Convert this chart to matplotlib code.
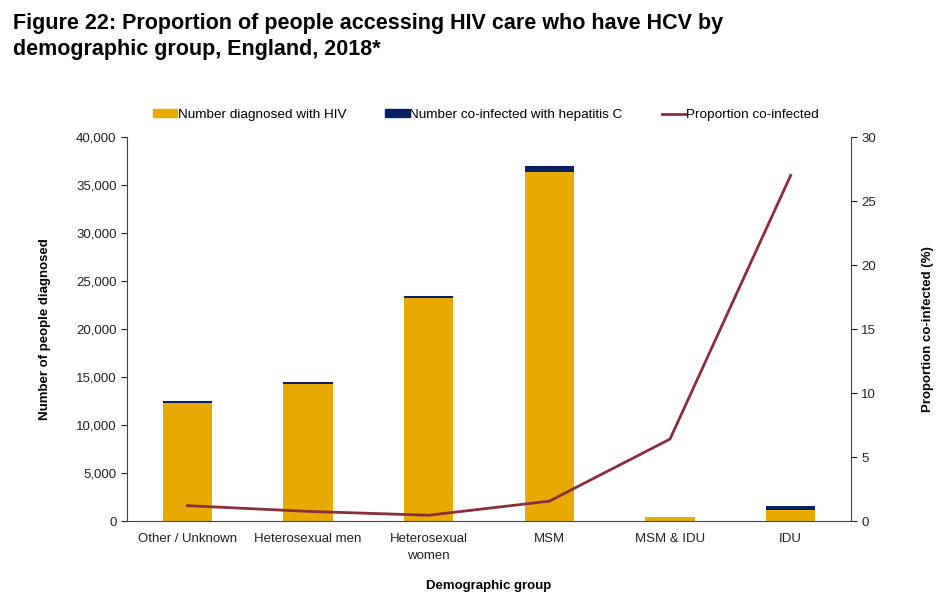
import numpy as np
import matplotlib.pyplot as plt
from matplotlib.patches import Patch
from matplotlib.lines import Line2D

plt.rcParams['font.family'] = ['Liberation Sans', 'DejaVu Sans']

groups = ['Other / Unknown', 'Heterosexual men', 'Heterosexual\nwomen', 'MSM', 'MSM & IDU', 'IDU']
hiv_only = [12300, 14300, 23250, 36400, 370, 1150]
hcv_coinfected = [220, 170, 170, 570, 70, 420]
prop_coinfected = [1.2, 0.75, 0.45, 1.55, 6.4, 27.0]

yellow = '#E8AA00'
navy = '#0A215F'
maroon = '#8C2D3C'

fig = plt.figure(figsize=(9.51, 6.08), dpi=100)
ax = fig.add_axes([127 / 951, 1 - 521 / 608, 724 / 951, 384 / 608])
ax2 = ax.twinx()

x = np.arange(len(groups))
ax.bar(x, hiv_only, width=0.41, color=yellow, zorder=2)
ax.bar(x, hcv_coinfected, width=0.41, bottom=hiv_only, color=navy, zorder=2)
ax2.plot(x, prop_coinfected, color=maroon, linewidth=2, zorder=3)

ax.set_xlim(-0.5, len(groups) - 0.5)
ax.set_ylim(0, 40000)
ax.set_yticks(np.arange(0, 40001, 5000))
ax.set_yticklabels([f'{v:,}' for v in range(0, 40001, 5000)])
ax2.set_ylim(0, 30)
ax2.set_yticks(np.arange(0, 31, 5))

ax.set_xticks(x)
ax.set_xticklabels(groups, fontsize=9.5, color='#222222', linespacing=1.45)
ax.tick_params(axis='x', length=0, pad=9)
ax.tick_params(axis='y', labelsize=9.5, length=4, colors='#222222', direction='out')
ax2.tick_params(axis='y', labelsize=9.5, length=4, colors='#222222', direction='out')

for a in (ax, ax2):
    a.spines['top'].set_visible(False)
    for s in ('left', 'right', 'bottom'):
        a.spines[s].set_color('#444444')
ax.spines['right'].set_visible(False)
ax2.spines['left'].set_visible(False)
ax2.spines['bottom'].set_visible(False)

ax.set_ylabel('Number of people diagnosed', fontsize=9.5, fontweight='bold', labelpad=18)
ax2.set_ylabel('Proportion co-infected (%)', fontsize=9.5, fontweight='bold', labelpad=33)
ax.set_xlabel('Demographic group', fontsize=9.5, fontweight='bold', labelpad=13)

fig.text(13 / 951, 1 - 13 / 608, 'Figure 22: Proportion of people accessing HIV care who have HCV by\ndemographic group, England, 2018*',
         fontsize=15.5, fontweight='bold', va='top', ha='left', linespacing=1.3)

handles = [Patch(color=yellow), Patch(color=navy), Line2D([0], [0], color=maroon, linewidth=2)]
labels = ['Number diagnosed with HIV', 'Number co-infected with hepatitis C', 'Proportion co-infected']
fig.legend(handles, labels, loc='center', bbox_to_anchor=(486 / 951, 1 - 115 / 608), ncol=3,
           frameon=False, fontsize=9.7, handlelength=1.75, handleheight=0.5, handletextpad=0.05,
           columnspacing=2.9)

fig.savefig('out.png', dpi=100)
